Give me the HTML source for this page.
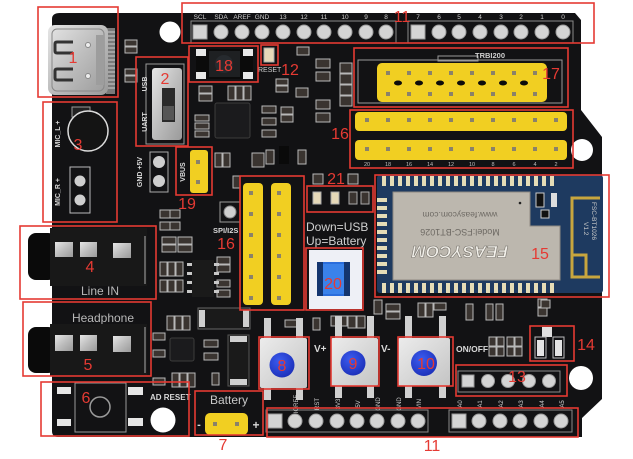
<!DOCTYPE html>
<html><head><meta charset="utf-8">
<style>
html,body{margin:0;padding:0;background:#fff;width:633px;height:459px;overflow:hidden;}
svg{display:block;}
text{font-family:"Liberation Sans",sans-serif;}
</style></head><body>
<svg width="633" height="459" viewBox="0 0 633 459" xmlns="http://www.w3.org/2000/svg">
<defs>
<linearGradient id="silver" x1="0" y1="0" x2="1" y2="1">
<stop offset="0" stop-color="#e6e6e6"/><stop offset="0.5" stop-color="#bdbdbd"/><stop offset="1" stop-color="#9a9a9a"/>
</linearGradient>
<linearGradient id="btn" x1="0" y1="0" x2="1" y2="1">
<stop offset="0" stop-color="#ececec"/><stop offset="1" stop-color="#c4c4c4"/>
</linearGradient>
<radialGradient id="blue" cx="0.4" cy="0.35" r="0.7">
<stop offset="0" stop-color="#3b5cf0"/><stop offset="1" stop-color="#1c2fb8"/>
</radialGradient>
</defs>

<!-- BOARD -->
<path d="M60,13 L575,13 L581,20 L581,110 L602,137 L602,399 L582,418 L582,437 L58,437 Q52,437 52,431 L52,19 Q52,13 60,13 Z" fill="#121214"/>

<!-- holes -->
<circle cx="170" cy="32" r="10.5" fill="#fff"/>
<circle cx="582" cy="150" r="11" fill="#fff"/>
<circle cx="581" cy="378" r="12" fill="#fff"/>
<circle cx="163" cy="420" r="12.5" fill="#fff"/>

<!-- USB-C -->
<rect x="106" y="28" width="9" height="66" fill="#7a7a7a"/>
<g stroke="#cfcfcf" stroke-width="1">
<line x1="106" y1="32" x2="115" y2="32"/><line x1="106" y1="36" x2="115" y2="36"/><line x1="106" y1="40" x2="115" y2="40"/><line x1="106" y1="44" x2="115" y2="44"/><line x1="106" y1="48" x2="115" y2="48"/><line x1="106" y1="52" x2="115" y2="52"/><line x1="106" y1="56" x2="115" y2="56"/><line x1="106" y1="60" x2="115" y2="60"/><line x1="106" y1="64" x2="115" y2="64"/><line x1="106" y1="68" x2="115" y2="68"/><line x1="106" y1="72" x2="115" y2="72"/><line x1="106" y1="76" x2="115" y2="76"/><line x1="106" y1="80" x2="115" y2="80"/><line x1="106" y1="84" x2="115" y2="84"/><line x1="106" y1="88" x2="115" y2="88"/>
</g>
<rect x="48" y="25" width="60" height="70" rx="7" fill="url(#silver)"/>
<rect x="52" y="29" width="52" height="62" rx="5" fill="none" stroke="#888" stroke-width="1"/>
<path d="M73,42 L57,42 Q55,42 55,44 L55,51 Q55,53 57,53 L73,53" fill="none" stroke="#333" stroke-width="3"/>
<path d="M73,69 L57,69 Q55,69 55,71 L55,78 Q55,80 57,80 L73,80" fill="none" stroke="#333" stroke-width="3"/>
<circle cx="88" cy="45" r="2.5" fill="#eee" stroke="#888"/>
<circle cx="88" cy="76" r="2.5" fill="#eee" stroke="#888"/>
<rect x="96" y="35" width="8" height="50" fill="#9d9d9d"/>

<!-- small SMD parts (texture) -->
<g stroke="#b8b8b8" stroke-width="1" fill="#3a3430">
<rect x="125" y="40" width="12" height="6"/><rect x="125" y="47" width="12" height="6"/>
<rect x="125" y="69" width="12" height="6"/><rect x="125" y="76" width="12" height="6"/>
<rect x="199" y="86" width="13" height="7"/><rect x="199" y="94" width="13" height="7"/>
<rect x="228" y="86" width="7" height="14"/><rect x="236" y="86" width="7" height="14"/><rect x="244" y="86" width="7" height="14"/>
<rect x="195" y="115" width="14" height="6"/><rect x="195" y="123" width="14" height="6"/><rect x="195" y="131" width="14" height="6"/>
<rect x="262" y="106" width="14" height="7"/><rect x="262" y="118" width="14" height="7"/><rect x="262" y="130" width="14" height="7"/>
<rect x="297" y="47" width="12" height="8"/>
<rect x="316" y="59" width="14" height="9"/><rect x="316" y="72" width="14" height="9"/>
<rect x="276" y="79" width="12" height="6"/><rect x="276" y="86" width="12" height="6"/>
<rect x="296" y="88" width="12" height="9"/>
<rect x="316" y="100" width="14" height="9"/><rect x="316" y="113" width="14" height="9"/>
<rect x="340" y="63" width="12" height="10"/><rect x="340" y="74" width="12" height="10"/><rect x="340" y="85" width="12" height="10"/><rect x="340" y="96" width="12" height="10"/>
<rect x="281" y="107" width="12" height="7"/><rect x="281" y="115" width="12" height="7"/>
<rect x="266" y="150" width="8" height="14"/><rect x="298" y="150" width="8" height="14"/>
<rect x="215" y="153" width="7" height="14"/><rect x="223" y="153" width="7" height="14"/>
<rect x="252" y="153" width="12" height="14"/>
<rect x="313" y="174" width="10" height="10"/><rect x="348" y="174" width="10" height="10"/>
<rect x="233" y="176" width="7" height="12"/>
<rect x="160" y="210" width="10" height="8"/><rect x="170" y="210" width="10" height="8"/>
<rect x="160" y="222" width="10" height="8"/><rect x="170" y="222" width="10" height="8"/>
<rect x="162" y="237" width="14" height="7"/><rect x="162" y="245" width="14" height="7"/><rect x="178" y="237" width="14" height="7"/><rect x="178" y="245" width="14" height="7"/>
<rect x="160" y="262" width="7" height="14"/><rect x="168" y="262" width="7" height="14"/><rect x="176" y="262" width="7" height="14"/>
<rect x="160" y="280" width="7" height="12"/><rect x="168" y="280" width="7" height="12"/><rect x="176" y="280" width="7" height="12"/>
<rect x="217" y="257" width="13" height="7"/><rect x="217" y="265" width="13" height="7"/>
<rect x="217" y="280" width="13" height="7"/><rect x="217" y="290" width="13" height="7"/>
<rect x="167" y="316" width="7" height="14"/><rect x="175" y="316" width="7" height="14"/><rect x="183" y="316" width="7" height="14"/>
<rect x="153" y="333" width="12" height="7"/><rect x="153" y="350" width="12" height="7"/><rect x="153" y="378" width="12" height="7"/>
<rect x="204" y="340" width="14" height="7"/><rect x="204" y="353" width="14" height="7"/>
<rect x="172" y="373" width="7" height="14"/><rect x="180" y="373" width="7" height="14"/><rect x="188" y="373" width="7" height="14"/>
<rect x="212" y="373" width="7" height="12"/>
<rect x="285" y="320" width="12" height="7"/><rect x="313" y="318" width="7" height="12"/>
<rect x="348" y="316" width="8" height="12"/><rect x="357" y="316" width="8" height="12"/>
<rect x="386" y="304" width="14" height="7"/><rect x="386" y="312" width="14" height="7"/>
<rect x="418" y="303" width="7" height="14"/><rect x="426" y="303" width="7" height="14"/><rect x="434" y="303" width="12" height="7"/>
<rect x="466" y="304" width="7" height="16"/><rect x="486" y="304" width="7" height="16"/><rect x="496" y="304" width="7" height="16"/>
<rect x="489" y="337" width="7" height="9"/><rect x="497" y="337" width="7" height="9"/><rect x="507" y="337" width="7" height="9"/><rect x="515" y="337" width="7" height="9"/>
<rect x="489" y="347" width="7" height="9"/><rect x="497" y="347" width="7" height="9"/><rect x="507" y="347" width="7" height="9"/><rect x="515" y="347" width="7" height="9"/>
<rect x="538" y="299" width="9" height="8"/><rect x="538" y="308" width="9" height="8"/>
<rect x="331" y="316" width="8" height="10"/><rect x="339" y="316" width="8" height="10"/>
<rect x="374" y="300" width="8" height="14"/>
</g>

<!-- chips -->
<rect x="215" y="103" width="35" height="35" rx="2" fill="#1b1b1d" stroke="#3c3c3c"/>
<rect x="279" y="146" width="10" height="18" fill="#0a0a0a"/>
<rect x="192" y="260" width="22" height="37" fill="#1a1a1a"/>
<g fill="#c8c8c8">
<rect x="187" y="263" width="5" height="3"/><rect x="187" y="272" width="5" height="3"/><rect x="187" y="281" width="5" height="3"/><rect x="187" y="290" width="5" height="3"/>
<rect x="214" y="263" width="5" height="3"/><rect x="214" y="272" width="5" height="3"/><rect x="214" y="281" width="5" height="3"/><rect x="214" y="290" width="5" height="3"/>
</g>
<rect x="170" y="338" width="24" height="23" rx="2" fill="#1b1b1d" stroke="#3c3c3c"/>
<rect x="228" y="335" width="21" height="51" fill="#1a1a1a" stroke="#555"/>
<rect x="230" y="336" width="17" height="6" fill="#cfcfcf"/><rect x="230" y="379" width="17" height="6" fill="#cfcfcf"/>
<rect x="198" y="308" width="52" height="21" fill="#1a1a1a" stroke="#666"/>
<rect x="199" y="310" width="6" height="17" fill="#cfcfcf"/><rect x="243" y="310" width="6" height="17" fill="#cfcfcf"/>

<!-- top headers -->
<rect x="191" y="21" width="205" height="22" fill="none" stroke="#8a8a8a" stroke-width="1"/>
<rect x="408" y="21" width="165" height="22" fill="none" stroke="#8a8a8a" stroke-width="1"/>
<g fill="#d4d4d4" stroke="#9a9a9a">
<rect x="193" y="25" width="14" height="14"/>
<circle cx="221" cy="32" r="7"/><circle cx="242" cy="32" r="7"/><circle cx="262" cy="32" r="7"/><circle cx="283" cy="32" r="7"/><circle cx="304" cy="32" r="7"/><circle cx="324" cy="32" r="7"/><circle cx="345" cy="32" r="7"/><circle cx="366" cy="32" r="7"/><circle cx="386" cy="32" r="7"/>
<rect x="411" y="25" width="14" height="14"/>
<circle cx="439" cy="32" r="7"/><circle cx="459" cy="32" r="7"/><circle cx="480" cy="32" r="7"/><circle cx="501" cy="32" r="7"/><circle cx="521" cy="32" r="7"/><circle cx="542" cy="32" r="7"/><circle cx="563" cy="32" r="7"/>
</g>
<g fill="#cfcfcf" font-size="6.5" text-anchor="middle">
<text x="200" y="19">SCL</text><text x="221" y="19">SDA</text><text x="242" y="19">AREF</text><text x="262" y="19">GND</text>
<text x="283" y="19">13</text><text x="304" y="19">12</text><text x="324" y="19">11</text><text x="345" y="19">10</text><text x="366" y="19">9</text><text x="386" y="19">8</text>
<text x="418" y="19">7</text><text x="439" y="19">6</text><text x="459" y="19">5</text><text x="480" y="19">4</text><text x="501" y="19">3</text><text x="521" y="19">2</text><text x="542" y="19">1</text><text x="563" y="19">0</text>
</g>

<!-- bottom headers -->
<rect x="266" y="410" width="162" height="22" fill="none" stroke="#8a8a8a"/>
<rect x="449" y="410" width="123" height="22" fill="none" stroke="#8a8a8a"/>
<g fill="#d4d4d4" stroke="#9a9a9a">
<rect x="268" y="414" width="14" height="14"/>
<circle cx="295" cy="421" r="7"/><circle cx="316" cy="421" r="7"/><circle cx="337" cy="421" r="7"/><circle cx="357" cy="421" r="7"/><circle cx="377" cy="421" r="7"/><circle cx="398" cy="421" r="7"/><circle cx="418" cy="421" r="7"/>
<rect x="452" y="414" width="14" height="14"/>
<circle cx="479" cy="421" r="7"/><circle cx="500" cy="421" r="7"/><circle cx="520" cy="421" r="7"/><circle cx="541" cy="421" r="7"/><circle cx="561" cy="421" r="7"/>
</g>
<g fill="#cfcfcf" font-size="6" text-anchor="middle">
<text transform="translate(298,404) rotate(-90)">IOREF</text><text transform="translate(319,404) rotate(-90)">RST</text><text transform="translate(340,404) rotate(-90)">3V3</text><text transform="translate(360,404) rotate(-90)">5V</text><text transform="translate(380,404) rotate(-90)">GND</text><text transform="translate(401,404) rotate(-90)">GND</text><text transform="translate(421,404) rotate(-90)">VIN</text>
<text transform="translate(462,404) rotate(-90)">A0</text><text transform="translate(482,404) rotate(-90)">A1</text><text transform="translate(503,404) rotate(-90)">A2</text><text transform="translate(523,404) rotate(-90)">A3</text><text transform="translate(544,404) rotate(-90)">A4</text><text transform="translate(564,404) rotate(-90)">A5</text>
</g>

<!-- header 13 -->
<rect x="458" y="371" width="102" height="21" fill="none" stroke="#8a8a8a"/>
<g fill="#d4d4d4" stroke="#9a9a9a">
<rect x="462" y="375" width="12" height="12"/>
<circle cx="488" cy="381" r="6.5"/><circle cx="508" cy="381" r="6.5"/><circle cx="529" cy="381" r="6.5"/><circle cx="549" cy="381" r="6.5"/>
</g>

<!-- component 14 -->
<rect x="541" y="300" width="9" height="8" fill="#3a3430" stroke="#bbb"/>
<rect x="542" y="327" width="10" height="10" fill="#e0e0e0"/>
<rect x="535" y="337" width="11" height="21" fill="none" stroke="#bbb"/><rect x="537" y="340" width="7" height="16" fill="#e4e4e4"/>
<rect x="553" y="337" width="11" height="21" fill="none" stroke="#bbb"/><rect x="555" y="340" width="7" height="16" fill="#e4e4e4"/>

<!-- switch 2 -->
<rect x="146" y="64" width="38" height="80" fill="none" stroke="#999" stroke-width="1"/>
<rect x="152" y="68" width="30" height="72" rx="3" fill="url(#silver)"/>
<rect x="162" y="88" width="13" height="34" fill="#2a2a2a"/>
<rect x="163" y="106" width="11" height="14" fill="#555"/>
<g fill="#d8d8d8" font-size="7" font-weight="bold" text-anchor="middle">
<text transform="translate(147,84) rotate(-90)">USB</text>
<text transform="translate(147,122) rotate(-90)">UART</text>
<text transform="translate(142,172) rotate(-90)">GND +5V</text>
<text transform="translate(185,172) rotate(-90)">VBUS</text>
<text transform="translate(60,134) rotate(-90)">MIC_L +</text>
<text transform="translate(60,192) rotate(-90)">MIC_R +</text>
</g>

<!-- mic 3 -->
<rect x="72" y="107" width="18" height="10" fill="#222" stroke="#999"/>
<circle cx="88" cy="131" r="20" fill="#141414" stroke="#dcdcdc" stroke-width="1.5"/>
<rect x="70" y="167" width="20" height="46" fill="none" stroke="#bbb"/>
<circle cx="80" cy="181" r="5.5" fill="#cfcfcf"/><circle cx="80" cy="200" r="5.5" fill="#cfcfcf"/>

<!-- GND +5V pins -->
<rect x="150" y="152" width="18" height="40" fill="none" stroke="#aaa"/>
<circle cx="159" cy="162" r="6" fill="#cfcfcf"/><circle cx="159" cy="181" r="6" fill="#cfcfcf"/>

<!-- 18 button -->
<rect x="196" y="49" width="57" height="30" fill="#0b0b0b"/>
<rect x="196" y="49" width="10" height="7" fill="#e8e8e8"/><rect x="243" y="49" width="10" height="7" fill="#e8e8e8"/>
<rect x="196" y="72" width="10" height="7" fill="#e8e8e8"/><rect x="243" y="72" width="10" height="7" fill="#e8e8e8"/>
<rect x="209" y="51" width="31" height="26" fill="#1e2022"/>
<circle cx="224" cy="64" r="9" fill="#262a2e"/>
<!-- LED 12 -->
<rect x="264" y="48" width="10" height="14" fill="#e6d9b8" stroke="#aaa"/>
<text x="258" y="72" fill="#cfcfcf" font-size="7">RESET</text>

<!-- 19 VBUS -->
<rect x="190" y="150" width="18" height="43" rx="3" fill="#f1cf22"/>
<rect x="196" y="160" width="4" height="4" fill="#8a826a"/><rect x="196" y="180" width="4" height="4" fill="#8a826a"/>

<!-- 16 left yellow -->
<rect x="243" y="183" width="20" height="122" rx="4" fill="#f1cf22"/>
<rect x="271" y="183" width="20" height="122" rx="4" fill="#f1cf22"/>
<g fill="#8a826a">
<rect x="249" y="191" width="4" height="4"/><rect x="249" y="212" width="4" height="4"/><rect x="249" y="233" width="4" height="4"/><rect x="249" y="254" width="4" height="4"/><rect x="249" y="275" width="4" height="4"/><rect x="249" y="296" width="4" height="4"/>
<rect x="277" y="191" width="4" height="4"/><rect x="277" y="212" width="4" height="4"/><rect x="277" y="233" width="4" height="4"/><rect x="277" y="254" width="4" height="4"/><rect x="277" y="275" width="4" height="4"/><rect x="277" y="296" width="4" height="4"/>
</g>
<circle cx="230" cy="212" r="6" fill="#cfcfcf" stroke="#888"/>
<rect x="220" y="202" width="20" height="20" fill="none" stroke="#999"/>
<text x="213" y="233" fill="#d8d8d8" font-size="7.5" font-weight="bold">SPI/I2S</text>

<!-- 21 LEDs -->
<rect x="313" y="192" width="8" height="12" fill="#e6d9b8" stroke="#aaa"/>
<rect x="331" y="192" width="8" height="12" fill="#e6d9b8" stroke="#aaa"/>
<rect x="349" y="192" width="8" height="12" fill="#3a3430" stroke="#aaa"/>
<rect x="361" y="192" width="8" height="12" fill="#3a3430" stroke="#aaa"/>
<text x="306" y="231" fill="#d0d0d0" font-size="12">Down=USB</text>
<text x="306" y="245" fill="#d0d0d0" font-size="12">Up=Battery</text>

<!-- 20 -->
<rect x="309" y="250" width="53" height="59" fill="#eef0f6"/>
<rect x="317" y="262" width="33" height="34" rx="2" fill="#2a6ddc"/>
<rect x="317" y="262" width="6" height="34" fill="#14356e"/>
<rect x="344" y="262" width="6" height="34" fill="#14356e"/>
<rect x="323" y="264" width="21" height="30" fill="#3a82ea"/>

<!-- 17 yellow -->
<rect x="358" y="60" width="204" height="43" fill="none" stroke="#9a9a9a"/>
<rect x="438" y="56" width="40" height="5" fill="none" stroke="#9a9a9a"/>
<text x="490" y="58" fill="#cfcfcf" font-size="7.5" font-weight="bold" text-anchor="middle">TRBI200</text>
<rect x="377" y="63" width="170" height="39" rx="5" fill="#f1cf22"/>
<g fill="#0c0c0c">
<ellipse cx="398" cy="83" rx="4" ry="2.5"/><ellipse cx="419" cy="83" rx="4" ry="2.5"/><ellipse cx="440" cy="83" rx="4" ry="2.5"/><ellipse cx="461" cy="83" rx="4" ry="2.5"/><ellipse cx="482" cy="83" rx="4" ry="2.5"/><ellipse cx="503" cy="83" rx="4" ry="2.5"/><ellipse cx="524" cy="83" rx="4" ry="2.5"/>
</g>
<g fill="#8a826a">
<rect x="386" y="71" width="4" height="4"/><rect x="407" y="71" width="4" height="4"/><rect x="428" y="71" width="4" height="4"/><rect x="449" y="71" width="4" height="4"/><rect x="470" y="71" width="4" height="4"/><rect x="491" y="71" width="4" height="4"/><rect x="512" y="71" width="4" height="4"/><rect x="533" y="71" width="4" height="4"/>
<rect x="386" y="92" width="4" height="4"/><rect x="407" y="92" width="4" height="4"/><rect x="428" y="92" width="4" height="4"/><rect x="449" y="92" width="4" height="4"/><rect x="470" y="92" width="4" height="4"/><rect x="491" y="92" width="4" height="4"/><rect x="512" y="92" width="4" height="4"/><rect x="533" y="92" width="4" height="4"/>
</g>

<!-- 16 right yellow -->
<rect x="355" y="112" width="212" height="19" rx="4" fill="#f1cf22"/>
<rect x="355" y="140" width="212" height="20" rx="4" fill="#f1cf22"/>
<g fill="#8a826a">
<rect x="365" y="118" width="4" height="4"/><rect x="386" y="118" width="4" height="4"/><rect x="407" y="118" width="4" height="4"/><rect x="428" y="118" width="4" height="4"/><rect x="449" y="118" width="4" height="4"/><rect x="470" y="118" width="4" height="4"/><rect x="491" y="118" width="4" height="4"/><rect x="512" y="118" width="4" height="4"/><rect x="533" y="118" width="4" height="4"/><rect x="554" y="118" width="4" height="4"/>
<rect x="365" y="147" width="4" height="4"/><rect x="386" y="147" width="4" height="4"/><rect x="407" y="147" width="4" height="4"/><rect x="428" y="147" width="4" height="4"/><rect x="449" y="147" width="4" height="4"/><rect x="470" y="147" width="4" height="4"/><rect x="491" y="147" width="4" height="4"/><rect x="512" y="147" width="4" height="4"/><rect x="533" y="147" width="4" height="4"/><rect x="554" y="147" width="4" height="4"/>
</g>
<g fill="#bdbdbd" font-size="5.5" text-anchor="middle">
<text x="367" y="166">20</text><text x="388" y="166">18</text><text x="409" y="166">16</text><text x="430" y="166">14</text><text x="451" y="166">12</text><text x="472" y="166">10</text><text x="493" y="166">8</text><text x="514" y="166">6</text><text x="535" y="166">4</text><text x="556" y="166">2</text>
</g>

<!-- BT module 15 -->
<rect x="377" y="175" width="226" height="118" rx="3" fill="#1e3a60"/>
<g fill="#e5dcb6">
<rect x="382" y="176" width="4" height="10"/><rect x="390" y="176" width="4" height="10"/><rect x="398" y="176" width="4" height="10"/><rect x="406" y="176" width="4" height="10"/><rect x="414" y="176" width="4" height="10"/><rect x="422" y="176" width="4" height="10"/><rect x="430" y="176" width="4" height="10"/><rect x="438" y="176" width="4" height="10"/><rect x="446" y="176" width="4" height="10"/><rect x="454" y="176" width="4" height="10"/><rect x="462" y="176" width="4" height="10"/><rect x="470" y="176" width="4" height="10"/><rect x="478" y="176" width="4" height="10"/><rect x="486" y="176" width="4" height="10"/><rect x="494" y="176" width="4" height="10"/><rect x="502" y="176" width="4" height="10"/><rect x="510" y="176" width="4" height="10"/><rect x="518" y="176" width="4" height="10"/><rect x="526" y="176" width="4" height="10"/><rect x="534" y="176" width="4" height="10"/><rect x="542" y="176" width="4" height="10"/><rect x="550" y="176" width="4" height="10"/>
<rect x="382" y="283" width="4" height="10"/><rect x="390" y="283" width="4" height="10"/><rect x="398" y="283" width="4" height="10"/><rect x="406" y="283" width="4" height="10"/><rect x="414" y="283" width="4" height="10"/><rect x="422" y="283" width="4" height="10"/><rect x="430" y="283" width="4" height="10"/><rect x="438" y="283" width="4" height="10"/><rect x="446" y="283" width="4" height="10"/><rect x="454" y="283" width="4" height="10"/><rect x="462" y="283" width="4" height="10"/><rect x="470" y="283" width="4" height="10"/><rect x="478" y="283" width="4" height="10"/><rect x="486" y="283" width="4" height="10"/><rect x="494" y="283" width="4" height="10"/><rect x="502" y="283" width="4" height="10"/><rect x="510" y="283" width="4" height="10"/><rect x="518" y="283" width="4" height="10"/><rect x="526" y="283" width="4" height="10"/><rect x="534" y="283" width="4" height="10"/><rect x="542" y="283" width="4" height="10"/><rect x="550" y="283" width="4" height="10"/>
<rect x="377" y="198" width="10" height="4"/><rect x="377" y="206" width="10" height="4"/><rect x="377" y="214" width="10" height="4"/><rect x="377" y="222" width="10" height="4"/><rect x="377" y="230" width="10" height="4"/><rect x="377" y="238" width="10" height="4"/><rect x="377" y="246" width="10" height="4"/><rect x="377" y="254" width="10" height="4"/><rect x="377" y="262" width="10" height="4"/><rect x="377" y="270" width="10" height="4"/>
</g>
<path d="M393,192 L530,192 L530,226 L560,226 L560,280 L393,280 Z" fill="#bcb7ae"/>
<path d="M393,192 L530,192 L530,226 L560,226 L560,280 L393,280 Z" fill="none" stroke="#8f8a82" stroke-width="1"/>
<circle cx="520" cy="203" r="1.3" fill="#222"/>
<rect x="536" y="193" width="8" height="14" fill="#111" stroke="#ccc"/>
<rect x="551" y="193" width="6" height="14" fill="#ddd"/>
<rect x="541" y="210" width="8" height="8" fill="#111" stroke="#ccc"/>
<g text-anchor="middle">
<text transform="translate(460,212) rotate(180)" fill="#6e6a64" font-size="8.5">www.feasycom.com</text>
<text transform="translate(460,229) rotate(180)" fill="#6e6a64" font-size="9">Model:FSC-BT1026</text>
<text transform="translate(460,246) rotate(180)" fill="#f2f0ea" stroke="#7a766f" stroke-width="0.6" font-size="17" font-weight="bold" font-style="italic">FEASYCOM</text>
</g>
<path d="M600,198 L572,198 L572,277 L600,277 M572,255 L586,255 L586,277" fill="none" stroke="#c8a63e" stroke-width="3"/>
<text transform="translate(592,202) rotate(90)" fill="#c9c9c9" font-size="6.5">FSC-BT1026</text>
<text transform="translate(584,222) rotate(90)" fill="#c9c9c9" font-size="6.5">V1.2</text>

<!-- audio jack 4 -->
<rect x="28" y="233" width="28" height="47" rx="8" fill="#0a0a0a"/>
<rect x="50" y="228" width="97" height="58" fill="#181818"/>
<line x1="145" y1="236" x2="145" y2="284" stroke="#aaa" stroke-width="1"/>
<rect x="55" y="242" width="18" height="15" fill="url(#silver)"/>
<rect x="80" y="242" width="17" height="15" fill="url(#silver)"/>
<rect x="113" y="243" width="18" height="15" fill="url(#silver)"/>
<text x="100" y="295" fill="#b8b8b8" font-size="12" text-anchor="middle">Line IN</text>

<!-- audio jack 5 -->
<text x="103" y="322" fill="#b8b8b8" font-size="12" text-anchor="middle">Headphone</text>
<rect x="28" y="327" width="28" height="46" rx="8" fill="#0a0a0a"/>
<rect x="50" y="324" width="97" height="52" fill="#181818"/>
<line x1="145" y1="327" x2="145" y2="373" stroke="#aaa" stroke-width="1"/>
<rect x="55" y="335" width="18" height="16" fill="url(#silver)"/>
<rect x="80" y="335" width="17" height="16" fill="url(#silver)"/>
<rect x="113" y="336" width="18" height="16" fill="url(#silver)"/>

<!-- reset 6 -->
<rect x="75" y="383" width="51" height="49" fill="none" stroke="#9a9a9a"/>
<circle cx="100" cy="407" r="10" fill="none" stroke="#9a9a9a" stroke-width="1.5"/>
<rect x="57" y="387" width="14" height="7" fill="#e6e6e6"/><rect x="57" y="419" width="14" height="7" fill="#e6e6e6"/>
<rect x="128" y="387" width="15" height="8" fill="#e6e6e6"/><rect x="128" y="418" width="15" height="8" fill="#e6e6e6"/>
<text x="150" y="400" fill="#d8d8d8" font-size="8" font-weight="bold">AD RESET</text>

<!-- battery 7 -->
<text x="229" y="404" fill="#c8c8c8" font-size="12" text-anchor="middle">Battery</text>
<rect x="205" y="413" width="43" height="22" rx="5" fill="#f1cf22"/>
<rect x="213" y="422" width="4" height="4" fill="#8a826a"/><rect x="235" y="422" width="4" height="4" fill="#8a826a"/>
<text x="199" y="428" fill="#d8d8d8" font-size="11" font-weight="bold" text-anchor="middle">-</text>
<text x="256" y="429" fill="#d8d8d8" font-size="12" font-weight="bold" text-anchor="middle">+</text>

<!-- buttons 8 9 10 -->
<g fill="#d0d0d0">
<rect x="264" y="318" width="7" height="20"/><rect x="296" y="318" width="7" height="20"/><rect x="264" y="388" width="7" height="12"/><rect x="296" y="388" width="7" height="12"/>
<rect x="335" y="316" width="7" height="22"/><rect x="367" y="316" width="7" height="22"/><rect x="335" y="386" width="7" height="12"/><rect x="367" y="386" width="7" height="12"/>
<rect x="405" y="316" width="7" height="22"/><rect x="439" y="316" width="7" height="22"/><rect x="405" y="386" width="7" height="12"/><rect x="439" y="386" width="7" height="12"/>
</g>
<rect x="260" y="338" width="47" height="50" rx="2" fill="url(#btn)"/>
<circle cx="282" cy="365" r="12.5" fill="url(#blue)"/>
<rect x="331" y="338" width="47" height="48" rx="2" fill="url(#btn)"/>
<circle cx="353" cy="363" r="12.5" fill="url(#blue)"/>
<rect x="398" y="338" width="52" height="48" rx="2" fill="url(#btn)"/>
<circle cx="424" cy="363" r="13" fill="url(#blue)"/>
<text x="314" y="352" fill="#d8d8d8" font-size="10" font-weight="bold">V+</text>
<text x="381" y="352" fill="#d8d8d8" font-size="10" font-weight="bold">V-</text>
<text x="456" y="352" fill="#d8d8d8" font-size="8.5" font-weight="bold">ON/OFF</text>

<!-- RED ANNOTATION BOXES -->
<g fill="none" stroke="#e53a33" stroke-width="1.6">
<rect x="38" y="7" width="80" height="90"/>
<rect x="182" y="3" width="412" height="40"/>
<rect x="189" y="46" width="69" height="36"/>
<rect x="261" y="45" width="17" height="20"/>
<rect x="136" y="57" width="52" height="89"/>
<rect x="43" y="102" width="74" height="120"/>
<rect x="176" y="147" width="36" height="48"/>
<rect x="240" y="176" width="64" height="134"/>
<rect x="307" y="186" width="66" height="26"/>
<rect x="306" y="248" width="57" height="62"/>
<rect x="354" y="48" width="214" height="59"/>
<rect x="350" y="110" width="223" height="58"/>
<rect x="375" y="175" width="234" height="122"/>
<rect x="20" y="226" width="136" height="73"/>
<rect x="23" y="302" width="128" height="74"/>
<rect x="41" y="382" width="148" height="54"/>
<rect x="195" y="391" width="68" height="44"/>
<rect x="259" y="337" width="50" height="52"/>
<rect x="331" y="337" width="48" height="49"/>
<rect x="398" y="337" width="55" height="49"/>
<rect x="530" y="326" width="44" height="35"/>
<rect x="456" y="365" width="111" height="31"/>
<rect x="267" y="408" width="311" height="29"/>
</g>

<!-- RED LABELS -->
<g fill="#e53a33" font-size="16" text-anchor="middle">
<text x="73" y="63">1</text>
<text x="165" y="84">2</text>
<text x="78" y="150">3</text>
<text x="224" y="71">18</text>
<text x="290" y="75">12</text>
<text x="402" y="22">11</text>
<text x="551" y="79">17</text>
<text x="340" y="139">16</text>
<text x="187" y="209">19</text>
<text x="226" y="249">16</text>
<text x="336" y="184">21</text>
<text x="333" y="289">20</text>
<text x="540" y="259">15</text>
<text x="90" y="272">4</text>
<text x="88" y="370">5</text>
<text x="86" y="403">6</text>
<text x="223" y="450">7</text>
<text x="282" y="371">8</text>
<text x="353" y="369">9</text>
<text x="426" y="369">10</text>
<text x="586" y="350">14</text>
<text x="517" y="382">13</text>
<text x="432" y="451">11</text>
</g>
</svg>
</body></html>
